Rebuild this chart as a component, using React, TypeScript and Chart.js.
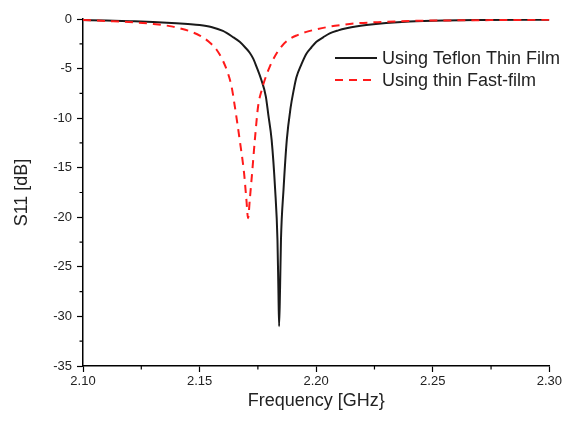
import React, { useEffect, useRef } from "react";
import { Chart, registerables } from "chart.js";

Chart.register(...registerables);

// Frequency [GHz] and S11 [dB]
const teflonFreq = [2.100, 2.110, 2.120, 2.130, 2.140, 2.145, 2.150, 2.155, 2.160, 2.1645, 2.1672, 2.1695, 2.1715, 2.1730, 2.1744, 2.1765, 2.1784, 2.1795, 2.1809, 2.1824, 2.1834, 2.1838, 2.1841, 2.1845, 2.1849, 2.1860, 2.1874, 2.1890, 2.1905, 2.1915, 2.1937, 2.1958, 2.1980, 2.2001, 2.2030, 2.2058, 2.2095, 2.2130, 2.2170, 2.2215, 2.2300, 2.2400, 2.2550, 2.2700, 2.3000];
const teflonS11 = [-0.10, -0.15, -0.22, -0.30, -0.42, -0.50, -0.60, -0.80, -1.20, -1.85, -2.30, -2.85, -3.40, -4.00, -4.80, -6.15, -7.80, -9.70, -12.2, -17.2, -22.3, -27.3, -31.0, -27.3, -22.3, -17.2, -12.2, -9.0, -7.0, -5.9, -4.55, -3.5, -2.85, -2.3, -1.85, -1.45, -1.15, -0.94, -0.75, -0.60, -0.40, -0.25, -0.15, -0.11, -0.08];

const fastFreq = [2.100, 2.110, 2.1214, 2.130, 2.1385, 2.1415, 2.146, 2.1503, 2.154, 2.1573, 2.1600, 2.1622, 2.1637, 2.1651, 2.1672, 2.1691, 2.1701, 2.1708, 2.1715, 2.1725, 2.1737, 2.1751, 2.1766, 2.1780, 2.1802, 2.1823, 2.1850, 2.1880, 2.1920, 2.1958, 2.2000, 2.2058, 2.2110, 2.2172, 2.2280, 2.2400, 2.2700, 2.3000];
const fastS11 = [-0.10, -0.20, -0.33, -0.50, -0.77, -0.94, -1.25, -1.70, -2.30, -3.10, -4.20, -5.50, -6.80, -8.80, -12.2, -15.6, -18.3, -20.1, -18.3, -15.6, -12.2, -8.8, -7.2, -6.1, -4.75, -3.75, -2.8, -2.12, -1.62, -1.30, -1.05, -0.77, -0.60, -0.44, -0.30, -0.20, -0.12, -0.08];

const seriesLabels = ["Using Teflon Thin Film", "Using thin Fast-film"];
const xTitle = "Frequency [GHz}";
const yTitle = "S11 [dB]";
const xMinorTicks = [2.125, 2.175, 2.225, 2.275];
const yMinorTicks = [-2.5, -7.5, -12.5, -17.5, -22.5, -27.5, -32.5];

const FONT = "'Liberation Sans', Arial, sans-serif";
const TEXT = "#222";

const minorTickPlugin = {
  id: "minorTicks",
  afterDraw(chart: any) {
    const { ctx, chartArea, scales } = chart;
    ctx.save();
    ctx.strokeStyle = "#000";
    ctx.lineWidth = 1.2;
    ctx.beginPath();
    xMinorTicks.forEach((v) => {
      const x = scales.x.getPixelForValue(v);
      ctx.moveTo(x, chartArea.bottom);
      ctx.lineTo(x, chartArea.bottom + 3.5);
    });
    yMinorTicks.forEach((v) => {
      const y = scales.y.getPixelForValue(v);
      ctx.moveTo(chartArea.left, y);
      ctx.lineTo(chartArea.left - 3.5, y);
    });
    ctx.stroke();
    ctx.restore();
  },
};

const legendPlugin = {
  id: "insideLegend",
  afterDraw(chart: any) {
    const { ctx, chartArea } = chart;
    const x0 = chartArea.left + 252;
    const y0 = chartArea.top + 39;
    ctx.save();
    ctx.font = `18px ${FONT}`;
    ctx.textBaseline = "middle";
    ctx.textAlign = "left";
    chart.data.datasets.forEach((ds: any, i: number) => {
      const y = y0 + i * 22;
      ctx.beginPath();
      ctx.strokeStyle = ds.borderColor;
      ctx.lineWidth = ds.borderWidth;
      ctx.setLineDash(ds.borderDash || []);
      ctx.moveTo(x0, y);
      ctx.lineTo(x0 + 42, y);
      ctx.stroke();
      ctx.setLineDash([]);
      ctx.fillStyle = TEXT;
      ctx.fillText(ds.label, x0 + 47, y + 1);
    });
    ctx.restore();
  },
};

export default function App() {
  const ref = useRef<HTMLCanvasElement>(null);
  useEffect(() => {
    if (!ref.current) return;
    const chart = new Chart(ref.current, {
      type: "line",
      data: {
        datasets: [
          {
            label: seriesLabels[0],
            data: teflonFreq.map((f, i) => ({ x: f, y: teflonS11[i] })),
            borderColor: "#1a1a1a",
            borderWidth: 2,
            pointRadius: 0,
            cubicInterpolationMode: "monotone",
            order: 2,
          },
          {
            label: seriesLabels[1],
            data: fastFreq.map((f, i) => ({ x: f, y: fastS11[i] })),
            borderColor: "#ff1a1a",
            borderWidth: 2,
            borderDash: [8, 6],
            pointRadius: 0,
            cubicInterpolationMode: "monotone",
            order: 1,
          },
        ],
      },
      options: {
        responsive: false,
        animation: false,
        layout: { padding: { top: 19, right: 14, left: 0, bottom: 0 } },
        plugins: { legend: { display: false }, tooltip: { enabled: false } },
        scales: {
          x: {
            type: "linear",
            min: 2.1,
            max: 2.3,
            afterFit: (s: any) => { s.height = 55; },
            ticks: {
              stepSize: 0.05,
              padding: 2,
              color: TEXT,
              font: { family: FONT, size: 13 },
              callback: (v: any) => Number(v).toFixed(2),
              maxRotation: 0,
            },
            grid: { drawOnChartArea: false, drawTicks: true, tickLength: 6, tickColor: "#000", tickWidth: 1.2 },
            border: { display: true, color: "#000", width: 1.5 },
            title: { display: true, text: xTitle, color: TEXT, font: { family: FONT, size: 18 }, padding: { top: 0, bottom: 9 } },
          },
          y: {
            min: -35,
            max: 0,
            afterFit: (s: any) => { s.width = 83; },
            ticks: {
              stepSize: 5,
              padding: 5,
              color: TEXT,
              font: { family: FONT, size: 13 },
            },
            grid: { drawOnChartArea: false, drawTicks: true, tickLength: 6, tickColor: "#000", tickWidth: 1.2 },
            border: { display: true, color: "#000", width: 1.5 },
            title: { display: true, text: yTitle, color: TEXT, font: { family: FONT, size: 18 }, padding: { top: 11, bottom: 0 } },
          },
        },
      },
      plugins: [minorTickPlugin, legendPlugin],
    });
    return () => chart.destroy();
  }, []);
  return (
    <div style={{ position: "absolute", left: 0, top: 0, width: 564, height: 421, background: "#fff" }}>
      <canvas ref={ref} width={564} height={421} />
    </div>
  );
}
